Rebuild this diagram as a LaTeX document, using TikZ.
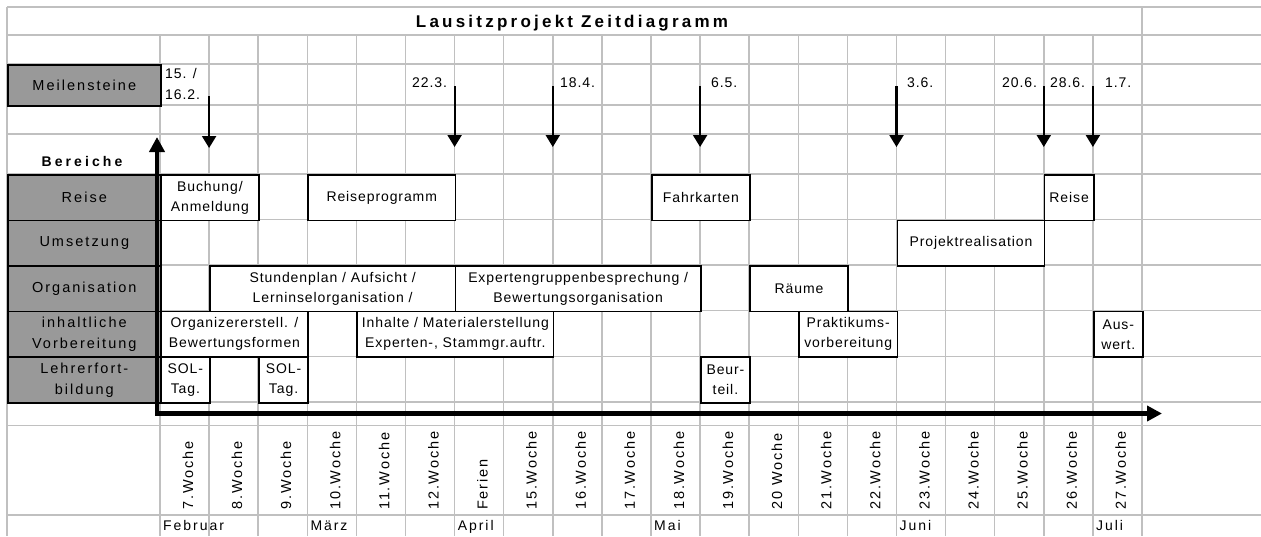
\documentclass[tikz,border=0pt]{standalone}
\usepackage{fontspec}
\setmainfont{Liberation Sans}
\newfontfamily\cellfont[LetterSpace=6.5]{Liberation Sans}
\newfontfamily\hdrfont[LetterSpace=14]{Liberation Sans}
\newfontfamily\wkfont[LetterSpace=13]{Liberation Sans}
\newfontfamily\ttlfont[LetterSpace=19]{Liberation Sans}
\newfontfamily\secfont[LetterSpace=22]{Liberation Sans}
\usetikzlibrary{arrows.meta}

\definecolor{gridgray}{RGB}{192,192,192}
\definecolor{hdrgray}{RGB}{153,153,153}

% left edge of week column #1 (0 = 7. Woche)
\newcommand\colx[1]{(160+49.1*(#1))}

\begin{document}
\begin{tikzpicture}[x=1pt,y=-1pt,
  gridline/.style={draw=gridgray,line width=1.5pt},
  taskbox/.style={draw,line width=1.6pt,fill=white,inner sep=0pt,anchor=north west,
    align=center,font=\cellfont\fontsize{14}{20}\selectfont},
  hdrbox/.style={draw,line width=1.6pt,fill=hdrgray,inner sep=0pt,anchor=north west,
    align=center,minimum width=153pt,font=\hdrfont\fontsize{14.5}{21}\selectfont},
  cols/.style={minimum width={(#1)*49.1pt}},
  rowh/.style={minimum height=#1pt},
  msl/.style={inner sep=0pt,anchor=base west,font=\cellfont\fontsize{14}{20}\selectfont},
  wklbl/.style={inner sep=0pt,rotate=90,anchor=base west,font=\wkfont\fontsize{14.5}{16}\selectfont},
  mlbl/.style={inner sep=0pt,anchor=base west,font=\hdrfont\fontsize{14}{16}\selectfont},
  msarrow/.style={line width=2.2pt,-{Triangle[width=14pt,length=12pt]}},
  axis/.style={line width=4.5pt,line join=miter,
    {Triangle[width=15pt,length=15pt]}-{Triangle[width=15pt,length=15pt]}}
]
\useasboundingbox (0,0) rectangle (1261,536);

% ---- sheet grid ----
\foreach \y in {7,35,64,105,134,174,219.5,265,310.7,356.3,402,425.5,515}
  \draw[gridline] (7,\y) -- (1261,\y);
\draw[gridline] (7,7) -- (7,536);
\draw[gridline] (1142,7) -- (1142,35);
\foreach \k in {0,...,20}
  \draw[gridline] ({\colx{\k}},35) -- ({\colx{\k}},536);

% ---- title ----
\node[inner sep=0pt,anchor=base,font=\ttlfont\bfseries\fontsize{17}{20}\selectfont]
  (title) at (572,27.3) {Lausitzprojekt Zeitdiagramm};

% ---- row headers ----
\node[hdrbox,rowh=41]   (hms)     at (7,64)    {Meilensteine};
\node[inner sep=0pt,anchor=base,font=\secfont\bfseries\fontsize{14}{16}\selectfont]
  (bereiche) at (82,166.5) {Bereiche};
\node[hdrbox,rowh=45.5] (hreise)  at (7,174)   {Reise};
\node[hdrbox,rowh=45.5] (humsetz) at (7,219.5) {Umsetzung};
\node[hdrbox,rowh=45.7] (horg)    at (7,265)   {Organisation};
\node[hdrbox,rowh=45.6] (hinhalt) at (7,310.7) {inhaltliche\\Vorbereitung};
\node[hdrbox,rowh=45.7] (hlehrer) at (7,356.3) {Lehrerfort-\\bildung};

% ---- Reise ----
\node[taskbox,cols=2,rowh=45.5] (buchung)  at ({\colx{0}},174) {Buchung/\\Anmeldung};
\node[taskbox,cols=3,rowh=45.5] (rprog)    at ({\colx{3}},174) {Reiseprogramm};
\node[taskbox,cols=2,rowh=45.5] (fahrk)    at ({\colx{10}},174) {Fahrkarten};
\node[taskbox,cols=1,rowh=45.5] (reise)    at ({\colx{18}},174) {Reise};
% ---- Umsetzung ----
\node[taskbox,cols=3,rowh=45.5] (projreal) at ({\colx{15}},219.5) {Projektrealisation};
% ---- Organisation ----
\node[taskbox,cols=5,rowh=45.7] (stdplan)  at ({\colx{1}},265) {Stundenplan / Aufsicht /\\Lerninselorganisation /};
\node[taskbox,cols=5,rowh=45.7] (expgrp)   at ({\colx{6}},265) {Expertengruppenbesprechung /\\Bewertungsorganisation};
\node[taskbox,cols=2,rowh=45.7] (raeume)   at ({\colx{12}},265) {Räume};
% ---- inhaltliche Vorbereitung ----
\node[taskbox,cols=3,rowh=45.6] (organiz)  at ({\colx{0}},310.7) {Organizererstell. /\\Bewertungsformen};
\node[taskbox,cols=4,rowh=45.6] (inhalte)  at ({\colx{4}},310.7) {Inhalte / Materialerstellung\\Experten-, Stammgr.auftr.};
\node[taskbox,cols=2,rowh=45.6] (prakt)    at ({\colx{13}},310.7) {Praktikums-\\vorbereitung};
\node[taskbox,cols=1,rowh=45.6] (auswert)  at ({\colx{19}},310.7) {Aus-\\wert.};
% ---- Lehrerfortbildung ----
\node[taskbox,cols=1,rowh=45.7] (sol1)     at ({\colx{0}},356.3) {SOL-\\Tag.};
\node[taskbox,cols=1,rowh=45.7] (sol2)     at ({\colx{2}},356.3) {SOL-\\Tag.};
\node[taskbox,cols=1,rowh=45.7] (beurt)    at ({\colx{11}},356.3) {Beur-\\teil.};

% ---- milestones ----
\node[msl] (ms1a) at (165,78.3) {15. /};
\node[msl] (ms1b) at (165,99) {16.2.};
\node[msl] (ms2) at (412,87.5) {22.3.};
\node[msl] (ms3) at (560,87.5) {18.4.};
\node[msl] (ms4) at (711,87.5) {6.5.};
\node[msl] (ms5) at (907,87.5) {3.6.};
\node[msl] (ms6) at (1002,87.5) {20.6.};
\node[msl] (ms7) at (1050,87.5) {28.6.};
\node[msl] (ms8) at (1105,87.5) {1.7.};

\coordinate (a1s) at ({\colx{1}},96);   \coordinate (a1e) at ({\colx{1}},148);
\foreach \k/\n in {6/2,8/3,11/4,15/5,18/6,19/7}{
  \coordinate (a\n s) at ({\colx{\k}},86);
  \coordinate (a\n e) at ({\colx{\k}},147);
}
\foreach \n in {1,...,7}
  \draw[msarrow] (a\n s) -- (a\n e);

% ---- axes ----
\coordinate (origin) at (157,413.5);
\coordinate (ytip) at (157,137);
\coordinate (xtip) at (1162,413.5);
\draw[axis] (ytip) -- (origin) -- (xtip);

% ---- week labels ----
\foreach \k/\w in {0/7.Woche,1/8.Woche,2/9.Woche,3/10.Woche,4/11.Woche,5/12.Woche,
    6/Ferien,7/15.Woche,8/16.Woche,9/17.Woche,10/18.Woche,11/19.Woche,12/20 Woche,
    13/21.Woche,14/22.Woche,15/23.Woche,16/24.Woche,17/25.Woche,18/26.Woche,19/27.Woche}
  \node[wklbl] (wk\k) at ({\colx{\k}+33},510) {\w};

% ---- months ----
\foreach \k/\m in {0/Februar,3/März,6/April,10/Mai,15/Juni,19/Juli}
  \node[mlbl] (mon\k) at ({\colx{\k}+3},530) {\m};
\end{tikzpicture}
\end{document}
